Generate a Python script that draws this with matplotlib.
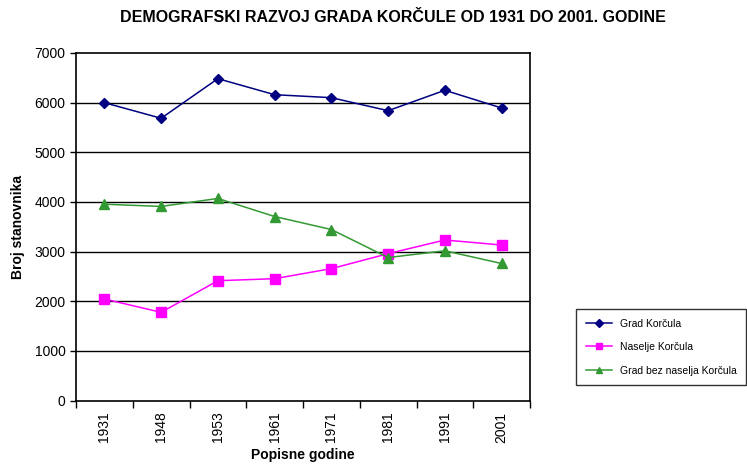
import matplotlib.pyplot as plt

plt.rcParams['font.family'] = ['Liberation Sans', 'DejaVu Sans']

# census years and population counts
years = ['1931', '1948', '1953', '1961', '1971', '1981', '1991', '2001']
grad_korcula = [5999, 5685, 6483, 6160, 6100, 5838, 6249, 5892]
naselje_korcula = [2045, 1776, 2413, 2454, 2656, 2958, 3233, 3132]
grad_bez_naselja = [3954, 3909, 4070, 3706, 3444, 2880, 3016, 2760]
y_ticks = [0, 1000, 2000, 3000, 4000, 5000, 6000, 7000]

fig = plt.figure(figsize=(7.47, 4.65), dpi=100)
ax = fig.add_axes([76 / 747, 1 - 400.5 / 465, 454 / 747, 347.5 / 465])

x = list(range(len(years)))
ax.plot(x, grad_korcula, color='#000080', marker='D', markersize=5.5, lw=1.1, label='Grad Korčula')
ax.plot(x, naselje_korcula, color='#FF00FF', marker='s', markersize=6.5, lw=1.1, label='Naselje Korčula')
ax.plot(x, grad_bez_naselja, color='#339933', marker='^', markersize=6.5, lw=1.1, label='Grad bez naselja Korčula')

ax.set_xlim(-0.5, len(years) - 0.5)
ax.set_ylim(0, 7000)
ax.set_yticks(y_ticks)
ax.set_yticklabels([str(v) for v in y_ticks], fontsize=10)
for v in y_ticks[1:-1]:
    ax.axhline(v, color='black', lw=1, zorder=0)

# category labels centred, tick marks on the boundaries
ax.set_xticks(x)
ax.set_xticklabels(years, rotation=90, fontsize=10)
ax.tick_params(axis='x', length=0, pad=8)
ax.set_xticks([i - 0.5 for i in range(len(years) + 1)], minor=True)
ax.tick_params(axis='x', which='minor', length=5, width=1)
ax.tick_params(axis='y', length=4, width=1)

for s in ax.spines.values():
    s.set_linewidth(1.2)
    s.set_color('black')

ax.set_xlabel('Popisne godine', fontsize=10, fontweight='bold', labelpad=4)
ax.set_ylabel('Broj stanovnika', fontsize=10, fontweight='bold', labelpad=7)
fig.text(393 / 747, 1 - 17 / 465, 'DEMOGRAFSKI RAZVOJ GRADA KORČULE OD 1931 DO 2001. GODINE',
         ha='center', va='center', fontsize=11.5, fontweight='bold')

leg = fig.legend(loc='upper left', bbox_to_anchor=(571 / 747, 1 - 304 / 465),
                 fontsize=7.5, frameon=True, fancybox=False, edgecolor='black',
                 labelspacing=1.3, handlelength=2.5, borderpad=0.9, markerscale=0.75)
leg.get_frame().set_linewidth(1)

plt.savefig('out.png', dpi=100)
